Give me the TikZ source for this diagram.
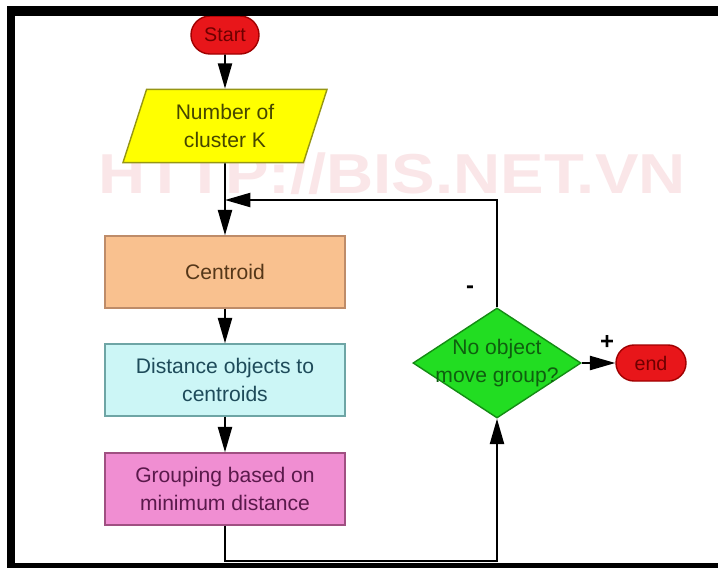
\documentclass[tikz,border=0pt]{standalone}
\usepackage{fontspec}
\setmainfont{Liberation Sans}
\usetikzlibrary{shapes.geometric}
\usetikzlibrary{shapes.misc}
\usetikzlibrary{arrows.meta}
\definecolor{termred}{RGB}{232,22,26}
\definecolor{termline}{RGB}{160,0,0}
\definecolor{termtext}{RGB}{110,0,0}
\definecolor{inyellow}{RGB}{255,255,0}
\definecolor{inline}{RGB}{150,150,20}
\definecolor{intext}{RGB}{70,70,0}
\definecolor{peach}{RGB}{249,193,143}
\definecolor{peachline}{RGB}{190,140,105}
\definecolor{peachtext}{RGB}{85,55,25}
\definecolor{lightcyan}{RGB}{204,246,246}
\definecolor{cyanline}{RGB}{110,165,165}
\definecolor{cyantext}{RGB}{30,75,90}
\definecolor{pinkbox}{RGB}{240,142,210}
\definecolor{pinkline}{RGB}{160,80,130}
\definecolor{pinktext}{RGB}{90,25,75}
\definecolor{decgreen}{RGB}{34,221,34}
\definecolor{decline}{RGB}{20,140,20}
\definecolor{dectext}{RGB}{15,95,15}
\definecolor{wmpink}{RGB}{250,230,232}

\tikzset{
  term/.style={rounded rectangle, fill=termred, draw=termline, line width=1pt,
    minimum width=1.7cm, minimum height=0.95cm, inner sep=0pt,
    text=termtext, font=\fontsize{14}{16}\selectfont},
  inbox/.style={trapezium, trapezium left angle=66, trapezium right angle=114,
    trapezium stretches body, fill=inyellow, draw=inline, line width=1pt,
    minimum width=5.1cm, minimum height=1.83cm, align=center, text=intext},
  procbox/.style={rectangle, line width=1pt, minimum width=6cm,
    minimum height=1.8cm, align=center},
  flow/.style={line width=1.4pt, -{Triangle[length=18pt,width=10pt]}},
  sign/.style={font=\bfseries\fontsize{17}{17}\selectfont}
}

\begin{document}
\begin{tikzpicture}[x=0.025cm, y=-0.025cm, font=\fontsize{15}{20}\selectfont]
  \useasboundingbox (0,0) rectangle (718,568);
  \fill[white] (0,0) rectangle (718,568);

  % watermark
  \node[text=wmpink, inner sep=0pt, font=\bfseries\fontsize{40}{40}\selectfont,
    xscale=1.16] (wm) at (392,174) {HTTP://BIS.NET.VN};

  \node[term] (start) at (225,35) {Start};
  \node[inbox] (input) at (225,126) {Number of\\cluster K};
  \node[procbox, fill=peach, draw=peachline, text=peachtext]
    (centroid) at (225,272) {Centroid};
  \node[procbox, fill=lightcyan, draw=cyanline, text=cyantext]
    (dist) at (225,380) {Distance objects to\\centroids};
  \node[procbox, fill=pinkbox, draw=pinkline, text=pinktext]
    (group) at (225,489) {Grouping based on\\minimum distance};
  \node[diamond, fill=decgreen, draw=decline, line width=1pt, inner sep=0pt,
    minimum width=4.2cm, minimum height=2.75cm,
    label={[align=center, text=dectext]center:No object\\move group?}]
    (check) at (497,363) {};
  \node[term, minimum width=1.75cm, minimum height=0.9cm] (end) at (651,363) {end};

  \coordinate (join) at (225,200);
  \coordinate (low) at (225,561);

  \draw[flow] (start) -- (input);
  \draw[flow] (input) -- (centroid);
  \draw[flow] (centroid) -- (dist);
  \draw[flow] (dist) -- (group);
  \draw[flow] (group) -- (low) -| (check.south);
  \draw[flow] (check.north) |- (join);
  \draw[flow] (check) -- (end);

  \node[sign] (minus) at (470,290) {-};
  \node[sign] (plus) at (607,342) {+};

  % black frame of the screenshot
  \fill[black] (7,6) rectangle (718,16);
  \fill[black] (7,6) rectangle (15,568);
  \fill[black] (7,563) rectangle (718,568);
\end{tikzpicture}
\end{document}
